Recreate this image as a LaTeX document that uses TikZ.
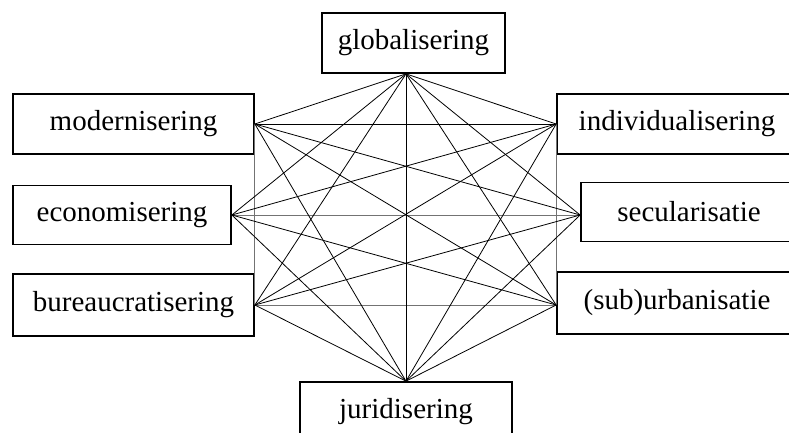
\documentclass[tikz,border=0pt]{standalone}
\usepackage{fontspec}
\setmainfont{Liberation Serif}
\begin{document}
\begin{tikzpicture}[x=1pt,y=-1pt,
  box/.style={draw=black, line width=1.7pt, rectangle, inner sep=0pt,
    font=\fontsize{29}{34}\selectfont},
  link/.style={draw=black, line width=0.8pt},
  glink/.style={draw=black!55, line width=0.8pt}]
\useasboundingbox (0,0) rectangle (789,432);
\clip (0,0) rectangle (789,432);
% boxes
\node[box, minimum width=183pt, minimum height=60pt] (glob) at (413.5,43) {globalisering};
\node[box, minimum width=241pt, minimum height=60pt] (mod) at (133.5,124) {modernisering};
\node[box, minimum width=218pt, minimum height=59pt] (eco) at (122,215) {economisering};
\node[box, minimum width=241pt, minimum height=62pt] (bur) at (133.5,305) {bureaucratisering};
\node[box, minimum width=212pt, minimum height=60pt] (jur) at (406,412) {juridisering};
\node[box, minimum width=240pt, minimum height=60pt] (ind) at (677,124) {individualisering};
\node[box, minimum width=216pt, minimum height=59pt] (sec) at (689,212) {secularisatie};
\node[box, minimum width=240pt, minimum height=62pt] (sub) at (677,303) {(sub)urbanisatie};
% connection points
\coordinate (g) at ([xshift=-7.5pt]glob.south);
\coordinate (m) at (mod.east);
\coordinate (e) at (eco.east);
\coordinate (b) at (bur.east);
\coordinate (j) at (jur.north);
\coordinate (i) at (ind.west);
\coordinate (s) at ([yshift=-3pt]sec.west);
\coordinate (u) at ([yshift=-2pt]sub.west);
% gray straight edges
\draw[glink] (m) -- (b);
\draw[glink] (i) -- (u);
\draw[glink] (e) -- (s);
\draw[glink] (b) -- (u);
% all other edges
\foreach \p/\q in {g/m,g/e,g/b,g/j,g/i,g/s,g/u,
                   m/j,m/i,m/s,m/u,
                   e/j,e/i,e/u,
                   b/j,b/i,b/s,
                   j/i,j/s,j/u}
  \draw[link] (\p) -- (\q);
\end{tikzpicture}
\end{document}
